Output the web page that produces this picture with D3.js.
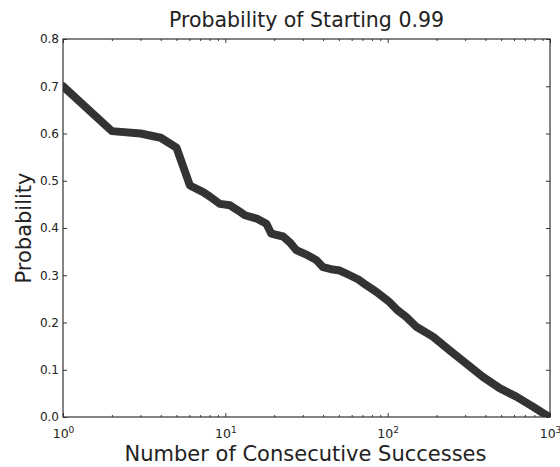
<!DOCTYPE html>
<html><head><meta charset="utf-8">
<script src="https://cdn.jsdelivr.net/npm/d3@7"></script>
<style>
body{margin:0;background:#fff;}
svg{font-family:"DejaVu Sans",sans-serif;}
</style></head>
<body><svg id="c" width="560" height="467"></svg>
<script>
const successes = [1, 2, 3, 4, 5, 6.05, 7.3, 8, 9.25, 10.7, 12, 13.2, 15.6, 17.9, 19.2, 22.7, 24.9, 27.4, 32.3, 36.4, 40, 46, 50.7, 58.4, 66, 73.9, 85.2, 102.8, 115, 130, 150, 190, 241, 305, 386, 489, 620, 784, 948, 1000];
const probability = [0.700, 0.605, 0.600, 0.591, 0.570, 0.490, 0.476, 0.467, 0.451, 0.448, 0.437, 0.427, 0.420, 0.409, 0.388, 0.382, 0.370, 0.353, 0.342, 0.332, 0.317, 0.312, 0.310, 0.300, 0.291, 0.279, 0.265, 0.243, 0.226, 0.212, 0.191, 0.170, 0.141, 0.113, 0.085, 0.061, 0.043, 0.022, 0.004, 0.000];
const xMajor = [1, 10, 100, 1000];
const xExp = ["0", "1", "2", "3"];
const yTicks = [0, 0.1, 0.2, 0.3, 0.4, 0.5, 0.6, 0.7, 0.8];
const title = "Probability of Starting 0.99";
const xTitle = "Number of Consecutive Successes";
const yTitle = "Probability";

const L = 63, R = 550, T = 39, B = 417;
const svg = d3.select("#c");
const x = d3.scaleLog().domain([1, 1000]).range([L, R]);
const y = d3.scaleLinear().domain([0, 0.8]).range([B, T]);

const xMinor = [];
for (let d = 1; d < 1000; d *= 10) for (let k = 2; k <= 9; k++) xMinor.push(d * k);

const axisColor = "#333";
function style(g){ g.select(".domain").remove(); g.selectAll("line").attr("stroke", axisColor); }

// bottom major
const gb = svg.append("g").attr("transform", `translate(0,${B})`)
  .call(d3.axisBottom(x).tickValues(xMajor).tickSizeInner(-4).tickSizeOuter(0).tickPadding(8).tickFormat(() => ""));
style(gb);
gb.selectAll(".tick text").each(function(d, i){
  const t = d3.select(this).attr("font-size", 12.5).attr("fill", "#222").attr("font-family", "DejaVu Sans").attr("dy", "1.05em");
  t.append("tspan").text("10");
  t.append("tspan").attr("font-size", 9).attr("dy", "-0.55em").text(xExp[i]);
});
svg.append("g").attr("transform", `translate(0,${B})`)
  .call(d3.axisBottom(x).tickValues(xMinor).tickSizeInner(-2).tickSizeOuter(0).tickFormat(() => "")).call(style);
// top
svg.append("g").attr("transform", `translate(0,${T})`)
  .call(d3.axisTop(x).tickValues(xMajor).tickSizeInner(-4).tickSizeOuter(0).tickFormat(() => "")).call(style);
svg.append("g").attr("transform", `translate(0,${T})`)
  .call(d3.axisTop(x).tickValues(xMinor).tickSizeInner(-2).tickSizeOuter(0).tickFormat(() => "")).call(style);
// left
const gl = svg.append("g").attr("transform", `translate(${L},0)`)
  .call(d3.axisLeft(y).tickValues(yTicks).tickSizeInner(-4).tickSizeOuter(0).tickPadding(8).tickFormat(d3.format(".1f")));
style(gl);
gl.selectAll(".tick text").attr("font-size", 12).attr("fill", "#222").attr("font-family", "DejaVu Sans").attr("x", -4);
// right
svg.append("g").attr("transform", `translate(${R},0)`)
  .call(d3.axisRight(y).tickValues(yTicks).tickSizeInner(-4).tickSizeOuter(0).tickFormat(() => "")).call(style);

// clip
svg.append("clipPath").attr("id", "clip").append("rect").attr("x", L).attr("y", T).attr("width", R - L).attr("height", B - T);

const line = d3.line().x((d, i) => x(successes[i])).y((d, i) => y(probability[i]));
svg.append("path").datum(probability)
  .attr("clip-path", "url(#clip)")
  .attr("d", line)
  .attr("fill", "none").attr("stroke", "#333").attr("stroke-width", 8)
  .attr("stroke-linejoin", "round").attr("stroke-linecap", "round");

// frame
svg.append("rect").attr("x", L).attr("y", T).attr("width", R - L).attr("height", B - T)
  .attr("fill", "none").attr("stroke", "#333").attr("stroke-width", 1.2);

svg.append("text").attr("x", (L + R) / 2).attr("y", 27).attr("text-anchor", "middle")
  .attr("font-size", 20.5).attr("fill", "#222").text(title);
svg.append("text").attr("x", (L + R) / 2 - 1).attr("y", 461).attr("text-anchor", "middle")
  .attr("font-size", 21).attr("fill", "#222").text(xTitle);
svg.append("text").attr("transform", `translate(31,${(T + B) / 2}) rotate(-90)`).attr("text-anchor", "middle")
  .attr("font-size", 21).attr("fill", "#222").text(yTitle);
</script></body></html>
